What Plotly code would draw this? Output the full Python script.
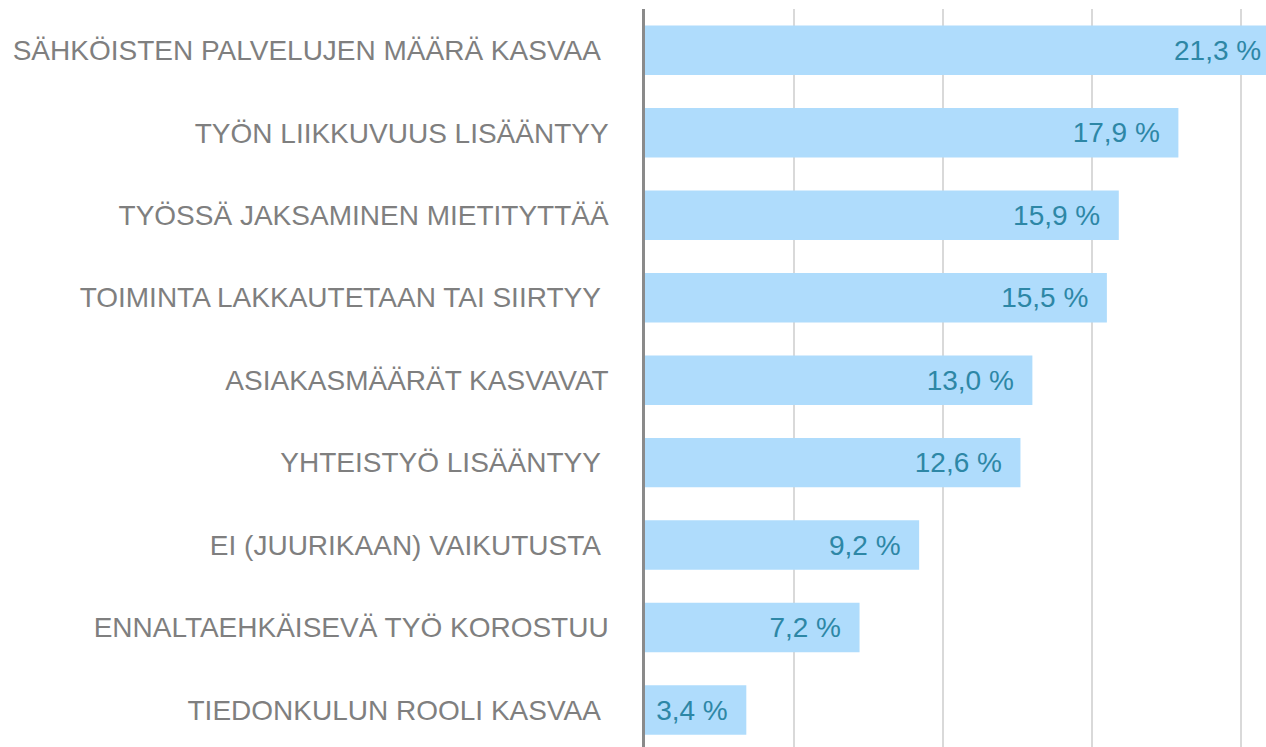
import plotly.graph_objects as go

categories = [
    "SÄHKÖISTEN PALVELUJEN MÄÄRÄ KASVAA\u00a0",
    "TYÖN LIIKKUVUUS LISÄÄNTYY",
    "TYÖSSÄ JAKSAMINEN MIETITYTTÄÄ",
    "TOIMINTA LAKKAUTETAAN TAI SIIRTYY\u00a0",
    "ASIAKASMÄÄRÄT KASVAVAT",
    "YHTEISTYÖ LISÄÄNTYY\u00a0",
    "EI (JUURIKAAN) VAIKUTUSTA\u00a0",
    "ENNALTAEHKÄISEVÄ TYÖ KOROSTUU",
    "TIEDONKULUN ROOLI KASVAA\u00a0",
]
values = [21.3, 17.9, 15.9, 15.5, 13.0, 12.6, 9.2, 7.2, 3.4]
value_labels = [f"{v:.1f}".replace(".", ",") + " %\u00a0\u00a0" for v in values]

FONT = "Liberation Sans, Arial, sans-serif"

fig = go.Figure(
    go.Bar(
        x=values,
        y=categories,
        orientation="h",
        marker=dict(color="#AFDCFC", line=dict(width=0)),
        text=value_labels,
        textposition="inside",
        insidetextanchor="end",
        constraintext="none",
        textangle=0,
        textfont=dict(family=FONT, size=28, color="#2D87A6"),
        hoverinfo="skip",
    )
)

fig.update_layout(
    width=1266,
    height=747,
    margin=dict(l=645, r=0, t=9, b=0, autoexpand=False),
    paper_bgcolor="white",
    plot_bgcolor="white",
    bargap=0.4,
    showlegend=False,
)
fig.update_xaxes(
    range=[0, 20.84],
    dtick=5,
    showgrid=True,
    gridcolor="#D9D9D9",
    gridwidth=1.5,
    zeroline=False,
    showticklabels=False,
    showline=False,
    automargin=False,
)
fig.update_yaxes(
    type="category",
    range=[8.448, -0.5],
    showgrid=False,
    showline=True,
    linecolor="#8A8A8A",
    linewidth=2.5,
    ticks="",
    ticklabelstandoff=28,
    automargin=False,
    tickfont=dict(family=FONT, size=28, color="#7F7F7F"),
)

fig.write_html(
    "out.html",
    config={"displayModeBar": False},
    post_script="document.body.style.margin='0';document.body.style.overflow='hidden';",
)
